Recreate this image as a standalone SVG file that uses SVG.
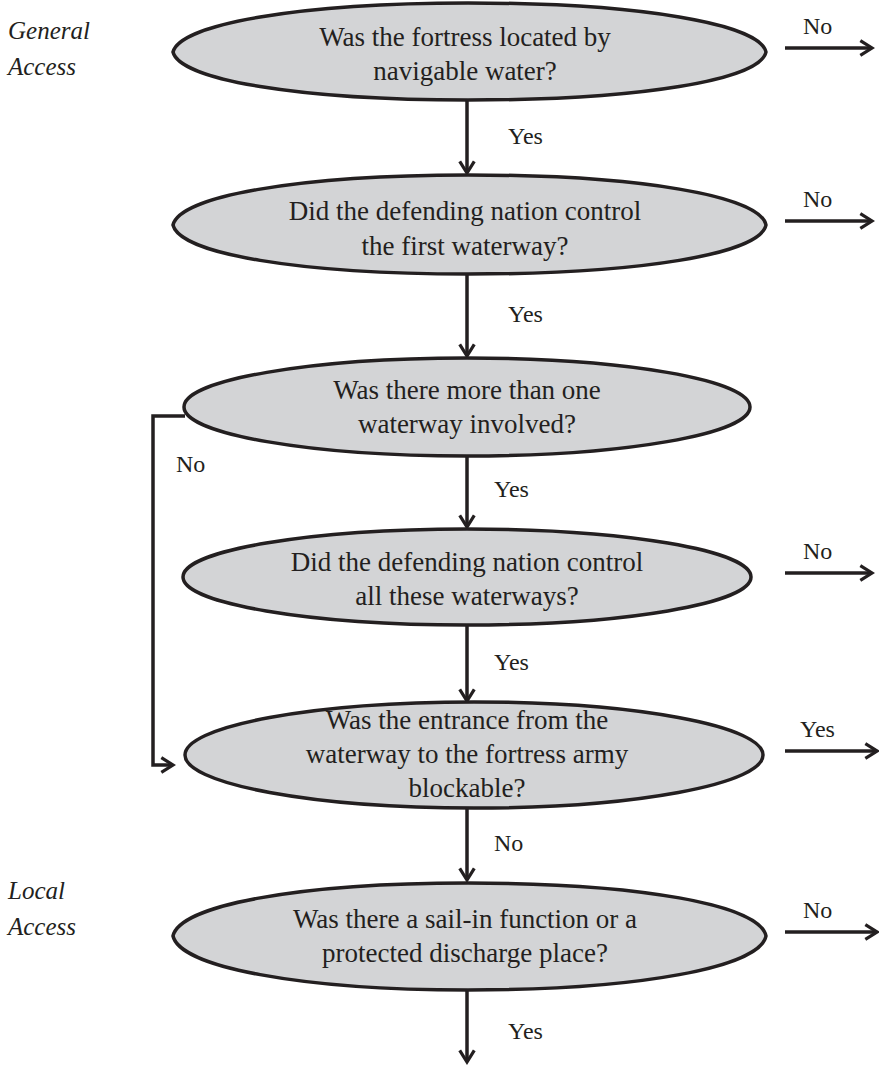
<svg xmlns="http://www.w3.org/2000/svg" width="879" height="1065" viewBox="0 0 879 1065">
<style>
.n{fill:#d3d4d6;stroke:#231f20;stroke-width:3.5}
.t{font-family:"Liberation Serif",serif;font-size:27px;fill:#231f20;text-anchor:middle}
.l{font-family:"Liberation Serif",serif;font-size:24px;fill:#231f20}
.i{font-family:"Liberation Serif",serif;font-size:25px;font-style:italic;fill:#231f20}
.c{fill:none;stroke:#231f20;stroke-width:3.5}
</style>
<defs>
<marker id="a" viewBox="0 0 12 12" refX="10" refY="6" markerWidth="5" markerHeight="5" orient="auto" markerUnits="strokeWidth">
<path d="M2,1 L10,6 L2,11" fill="none" stroke="#231f20" stroke-width="2.2"/>
</marker>
</defs>
<text class="i" x="8" y="39">General</text>
<text class="i" x="8" y="75">Access</text>
<text class="i" x="8" y="899">Local</text>
<text class="i" x="8" y="935">Access</text>
<g id="connectors">
<path class="c" d="M467,100 V173" marker-end="url(#a)"/>
<path class="c" d="M467,274 V356" marker-end="url(#a)"/>
<path class="c" d="M467,457 V527" marker-end="url(#a)"/>
<path class="c" d="M467,625 V701" marker-end="url(#a)"/>
<path class="c" d="M467,808 V880" marker-end="url(#a)"/>
<path class="c" d="M467,990 V1062" marker-end="url(#a)"/>
<path class="c" d="M785,48 H872" marker-end="url(#a)"/>
<path class="c" d="M785,221 H872" marker-end="url(#a)"/>
<path class="c" d="M785,573 H872" marker-end="url(#a)"/>
<path class="c" d="M785,751 H877" marker-end="url(#a)"/>
<path class="c" d="M785,932 H877" marker-end="url(#a)"/>
<path class="c" d="M185,416 H153 V765 H173" marker-end="url(#a)"/>
<text class="l" x="508" y="144">Yes</text>
<text class="l" x="508" y="322">Yes</text>
<text class="l" x="494" y="497">Yes</text>
<text class="l" x="494" y="670">Yes</text>
<text class="l" x="494" y="851">No</text>
<text class="l" x="508" y="1039">Yes</text>
<text class="l" x="803" y="34">No</text>
<text class="l" x="803" y="207">No</text>
<text class="l" x="803" y="559">No</text>
<text class="l" x="800" y="737">Yes</text>
<text class="l" x="803" y="918">No</text>
<text class="l" x="176" y="472">No</text>
</g>
<g id="n1">
<path class="n" d="M173,52 C180,24 300,3 468,3 C640,3 760,24 766,52 C760,80 640,100 468,100 C300,100 180,80 173,52 Z"/>
<text class="t" x="465" y="46">Was the fortress located by</text>
<text class="t" x="465" y="80">navigable water?</text>
</g>
<g id="n2">
<path class="n" d="M173,225 C180,196 300,175 468,175 C640,175 760,196 766,225 C760,254 640,274 468,274 C300,274 180,254 173,225 Z"/>
<text class="t" x="465" y="220">Did the defending nation control</text>
<text class="t" x="465" y="255">the first waterway?</text>
</g>
<g id="n3">
<ellipse class="n" cx="467" cy="407" rx="283" ry="49"/>
<text class="t" x="467" y="399">Was there more than one</text>
<text class="t" x="467" y="433">waterway involved?</text>
</g>
<g id="n4">
<ellipse class="n" cx="467" cy="577" rx="284" ry="48"/>
<text class="t" x="467" y="571">Did the defending nation control</text>
<text class="t" x="467" y="605">all these waterways?</text>
</g>
<g id="n5">
<ellipse class="n" cx="474" cy="755" rx="289" ry="53"/>
<text class="t" x="467" y="729">Was the entrance from the</text>
<text class="t" x="467" y="763">waterway to the fortress army</text>
<text class="t" x="467" y="797">blockable?</text>
</g>
<g id="n6">
<path class="n" d="M173,936 C180,905 300,883 468,883 C640,883 760,905 766,936 C760,967 640,990 468,990 C300,990 180,967 173,936 Z"/>
<text class="t" x="465" y="928">Was there a sail-in function or a</text>
<text class="t" x="465" y="962">protected discharge place?</text>
</g>
</svg>
